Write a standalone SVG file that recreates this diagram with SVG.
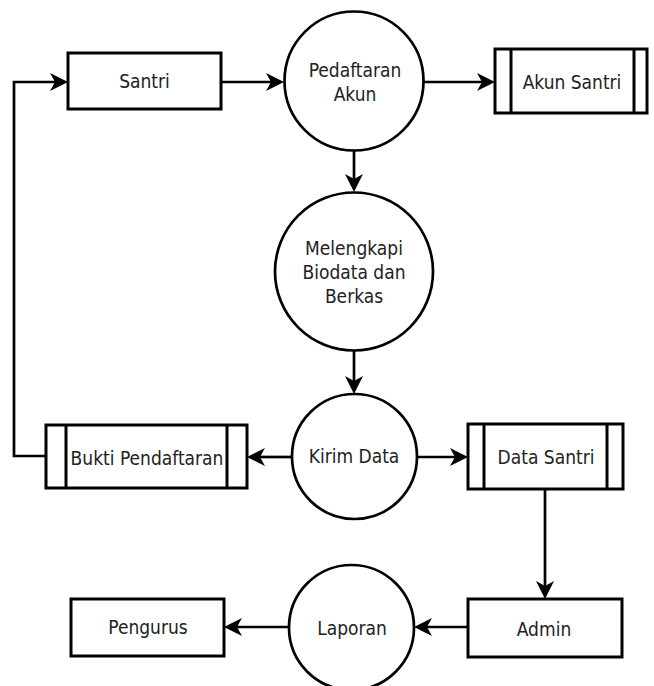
<svg xmlns="http://www.w3.org/2000/svg" width="654" height="686" viewBox="0 0 654 686">
<style>
.box{fill:#fff;stroke:#000;stroke-width:3}
.bar{fill:none;stroke:#000;stroke-width:3}
.proc{fill:#fff;stroke:#000;stroke-width:2.7}
.lbl{font-family:"DejaVu Sans Condensed","DejaVu Sans",sans-serif;font-stretch:condensed;font-size:19px;fill:#222;text-anchor:middle}
.conn{fill:none;stroke:#000;stroke-width:2.7;marker-end:url(#arr)}
</style>
<defs>
<marker id="arr" markerUnits="userSpaceOnUse" viewBox="0 0 18 18" markerWidth="18" markerHeight="18" refX="5" refY="9" orient="auto">
<path d="M0,0 L18,9 L0,18 L5,9 Z" fill="#000"/>
</marker>
</defs>
<rect width="654" height="686" fill="#fff"/>
<g id="connectors">
<line class="conn" x1="221" y1="82" x2="271" y2="82"/>
<line class="conn" x1="424" y1="82" x2="482" y2="82"/>
<line class="conn" x1="354" y1="151" x2="354" y2="179"/>
<line class="conn" x1="354" y1="351" x2="354" y2="381"/>
<line class="conn" x1="292" y1="457" x2="260" y2="457"/>
<line class="conn" x1="417" y1="457" x2="455" y2="457"/>
<path class="conn" d="M46,456 L14,456 L14,82 L55,82"/>
<line class="conn" x1="545" y1="489" x2="545" y2="586"/>
<line class="conn" x1="468" y1="627" x2="427" y2="627"/>
<line class="conn" x1="289" y1="627" x2="237" y2="627"/>
</g>
<g id="santri">
<rect class="box" x="68" y="53" width="153" height="56"/>
<text class="lbl" x="144.5" y="88">Santri</text>
</g>
<g id="pendaftaran-akun">
<circle class="proc" cx="354" cy="81" r="69.5"/>
<text class="lbl" x="355" y="77">Pedaftaran</text>
<text class="lbl" x="355" y="101">Akun</text>
</g>
<g id="akun-santri">
<rect class="box" x="495" y="49" width="152" height="64"/>
<line class="bar" x1="511" y1="49" x2="511" y2="113"/>
<line class="bar" x1="634" y1="49" x2="634" y2="113"/>
<text class="lbl" x="572" y="89">Akun Santri</text>
</g>
<g id="melengkapi">
<circle class="proc" cx="354" cy="271.5" r="79"/>
<text class="lbl" x="354" y="255">Melengkapi</text>
<text class="lbl" x="354" y="279">Biodata dan</text>
<text class="lbl" x="354" y="303">Berkas</text>
</g>
<g id="kirim-data">
<circle class="proc" cx="354.5" cy="456.5" r="62.5"/>
<text class="lbl" x="354" y="463">Kirim Data</text>
</g>
<g id="bukti-pendaftaran">
<rect class="box" x="46" y="425" width="201" height="63"/>
<line class="bar" x1="66" y1="425" x2="66" y2="488"/>
<line class="bar" x1="227" y1="425" x2="227" y2="488"/>
<text class="lbl" x="147" y="465">Bukti Pendaftaran</text>
</g>
<g id="data-santri">
<rect class="box" x="468" y="424" width="155" height="65"/>
<line class="bar" x1="484" y1="424" x2="484" y2="489"/>
<line class="bar" x1="607" y1="424" x2="607" y2="489"/>
<text class="lbl" x="546" y="464">Data Santri</text>
</g>
<g id="admin">
<rect class="box" x="468" y="599" width="154" height="58"/>
<text class="lbl" x="544" y="636">Admin</text>
</g>
<g id="laporan">
<circle class="proc" cx="351.5" cy="627.5" r="62.5"/>
<text class="lbl" x="352" y="635">Laporan</text>
</g>
<g id="pengurus">
<rect class="box" x="71" y="599" width="153" height="57"/>
<text class="lbl" x="148" y="634">Pengurus</text>
</g>
</svg>
